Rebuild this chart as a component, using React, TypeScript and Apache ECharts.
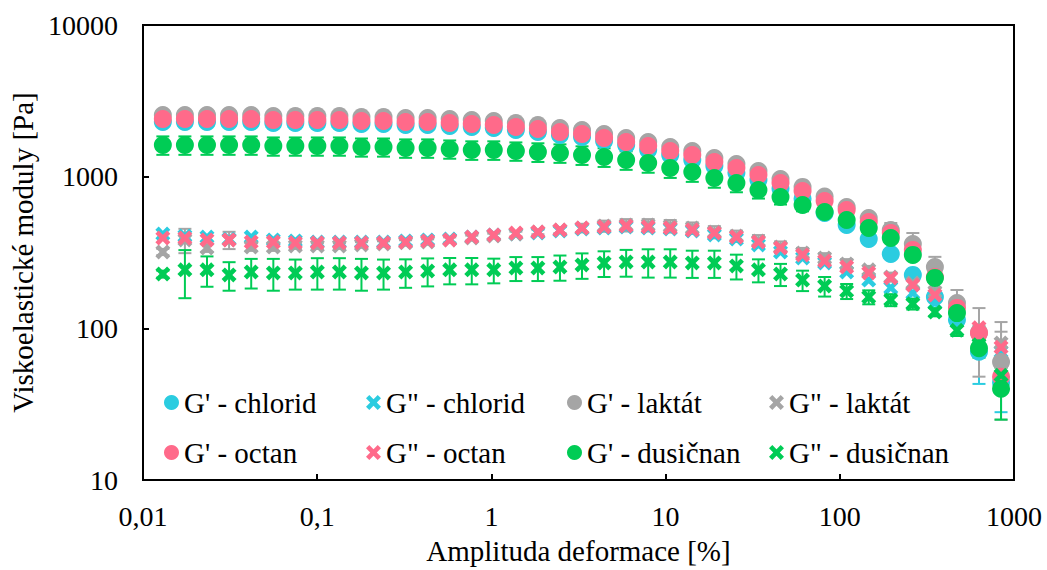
import React, { useEffect, useRef } from 'react';
import * as echarts from 'echarts';

// Strain amplitude [%]
const strain = [0.0130, 0.0174, 0.0233, 0.0312, 0.0418, 0.0560, 0.0749, 0.1002, 0.1341, 0.1795, 0.2403, 0.3217, 0.4305, 0.5763, 0.7714, 1.032, 1.382, 1.849, 2.475, 3.313, 4.435, 5.936, 7.943, 10.63, 14.23, 19.05, 25.50, 34.12, 45.67, 61.13, 81.82, 109.5, 146.6, 196.2, 262.6, 351.5, 470.5, 629.5, 842.6];

// G' and G" [Pa]
const gp_chlorid = [2293, 2293, 2293, 2293, 2293, 2259, 2259, 2259, 2259, 2225, 2225, 2191, 2191, 2158, 2126, 2094, 2031, 1971, 1884, 1827, 1719, 1618, 1500, 1390, 1289, 1176, 1060, 951, 835, 715, 576, 480, 388, 309, 225, 161, 114, 70, 44];
const gpp_chlorid = [419, 406, 400, 388, 400, 383, 377, 371, 371, 371, 371, 377, 383, 388, 400, 413, 419, 425, 438, 452, 459, 466, 459, 452, 438, 413, 388, 355, 319, 291, 270, 235, 208, 185, 171, 147, 117, 84, 70];
const gp_laktat = [2551, 2551, 2551, 2551, 2551, 2512, 2512, 2512, 2512, 2474, 2474, 2437, 2437, 2400, 2364, 2328, 2259, 2191, 2094, 2031, 1912, 1800, 1694, 1570, 1477, 1328, 1213, 1090, 965, 856, 740, 631, 534, 445, 360, 254, 147, 94, 60];
const gpp_laktat = [319, 383, 339, 383, 344, 344, 349, 349, 349, 355, 360, 366, 371, 383, 394, 406, 419, 432, 445, 459, 473, 480, 480, 473, 459, 432, 406, 377, 344, 314, 291, 266, 243, 218, 199, 174, 143, 92, 80];
const gp_octan = [2400, 2400, 2400, 2400, 2400, 2364, 2364, 2364, 2364, 2328, 2328, 2293, 2293, 2259, 2225, 2191, 2126, 2062, 1971, 1912, 1800, 1694, 1594, 1477, 1390, 1250, 1141, 1026, 909, 805, 691, 603, 503, 425, 329, 218, 136, 93, 48];
const gpp_octan = [394, 394, 383, 383, 371, 371, 366, 366, 366, 366, 366, 371, 377, 383, 400, 413, 425, 432, 445, 459, 466, 473, 466, 459, 445, 425, 400, 371, 339, 305, 278, 254, 232, 215, 193, 166, 138, 101, 75];
const gp_dusicnan = [1618, 1618, 1618, 1618, 1618, 1594, 1594, 1594, 1594, 1570, 1570, 1546, 1546, 1523, 1500, 1500, 1477, 1455, 1433, 1390, 1349, 1289, 1231, 1141, 1074, 980, 909, 817, 735, 651, 585, 518, 459, 394, 305, 215, 126, 74, 40];
const gpp_dusicnan = [228, 243, 243, 225, 235, 232, 232, 235, 235, 232, 232, 235, 239, 243, 243, 243, 250, 250, 254, 262, 270, 274, 274, 274, 270, 270, 258, 243, 228, 208, 190, 176, 161, 154, 145, 128, 97, 78, 49];

// Error bars (± Pa)
const err_gp_chlorid = [0, 0, 0, 0, 0, 0, 0, 0, 0, 0, 0, 0, 0, 0, 0, 0, 0, 0, 0, 0, 0, 0, 0, 0, 0, 0, 0, 0, 0, 0, 0, 0, 0, 0, 0, 0, 8, 27, 16];
const err_gp_laktat = [0, 0, 0, 0, 0, 0, 0, 0, 0, 0, 0, 0, 0, 0, 0, 0, 0, 0, 0, 0, 0, 0, 0, 0, 0, 0, 0, 0, 0, 0, 0, 0, 20, 50, 65, 42, 32, 10, 35];
const err_gpp_laktat = [15, 70, 20, 50, 20, 20, 15, 15, 15, 15, 15, 15, 15, 15, 15, 15, 15, 15, 20, 30, 40, 45, 45, 45, 40, 40, 35, 35, 30, 25, 22, 20, 15, 15, 15, 12, 12, 44, 30];
const err_gp_dusicnan = [225, 225, 225, 225, 225, 220, 220, 220, 220, 215, 215, 215, 215, 210, 210, 210, 205, 205, 200, 195, 190, 180, 170, 160, 150, 135, 120, 100, 80, 60, 45, 35, 30, 25, 20, 15, 10, 10, 15];
const err_gpp_dusicnan = [12, 85, 55, 48, 52, 55, 52, 55, 55, 55, 52, 50, 50, 48, 48, 45, 45, 45, 48, 50, 52, 55, 58, 58, 55, 55, 48, 42, 38, 32, 28, 20, 17, 14, 12, 8, 8, 8, 10];

const xTicks = [0.01, 0.1, 1, 10, 100, 1000];

const BLUE = '#2BCCE0';
const GRAY = '#A5A5A5';
const PINK = '#FF6A8A';
const GREEN = '#00CC55';
const FONT = '"Liberation Serif", "Times New Roman", serif';
const X_SYMBOL = 'path://M2.2,0L5,2.8L7.8,0L10,2.2L7.2,5L10,7.8L7.8,10L5,7.2L2.2,10L0,7.8L2.8,5L0,2.2Z';

const seriesDefs = [
  { name: "G' - chlorid", values: gp_chlorid, err: err_gp_chlorid, color: BLUE, x: false },
  { name: 'G" - chlorid', values: gpp_chlorid, err: null, color: BLUE, x: true },
  { name: "G' - laktát", values: gp_laktat, err: err_gp_laktat, color: GRAY, x: false },
  { name: 'G" - laktát', values: gpp_laktat, err: err_gpp_laktat, color: GRAY, x: true },
  { name: "G' - octan", values: gp_octan, err: null, color: PINK, x: false },
  { name: 'G" - octan', values: gpp_octan, err: null, color: PINK, x: true },
  { name: "G' - dusičnan", values: gp_dusicnan, err: err_gp_dusicnan, color: GREEN, x: false },
  { name: 'G" - dusičnan', values: gpp_dusicnan, err: err_gpp_dusicnan, color: GREEN, x: true },
];

const legendLeft = [164, 366, 567, 769];
const legendTop = [388, 438];

function fmtNum(v: number): string {
  const r = parseFloat(Number(v).toPrecision(6));
  return String(r).replace('.', ',');
}

export default function App() {
  const ref = useRef<HTMLDivElement>(null);
  useEffect(() => {
    if (!ref.current) return;
    const chart = echarts.init(ref.current, null, { renderer: 'svg' });

    const series: any[] = [];
    seriesDefs.forEach((s) => {
      series.push({
        type: 'scatter',
        name: s.name,
        data: strain.map((x, k) => [x, s.values[k]]),
        symbol: s.x ? X_SYMBOL : 'circle',
        symbolSize: s.x ? 15 : 18,
        itemStyle: { color: s.color, opacity: 1 },
        emphasis: { disabled: true },
        silent: true,
      });
      if (s.err) {
        const errs = s.err;
        const color = s.color;
        series.push({
          type: 'custom',
          name: s.name + ' error',
          silent: true,
          encode: { x: 0, y: [1, 2] },
          data: strain
            .map((x, k) => [x, s.values[k] - errs[k], s.values[k] + errs[k]])
            .filter((d, k) => errs[k] > 0),
          renderItem: (params: any, api: any) => {
            const x = api.value(0);
            const lo = api.value(1);
            const hi = api.value(2);
            const a = api.coord([x, hi]);
            const b = api.coord([x, lo]);
            const hw = 6.5;
            const style = { stroke: color, lineWidth: 2, fill: null };
            return {
              type: 'group',
              children: [
                { type: 'line', shape: { x1: a[0], y1: a[1], x2: b[0], y2: b[1] }, style },
                { type: 'line', shape: { x1: a[0] - hw, y1: a[1], x2: a[0] + hw, y2: a[1] }, style },
                { type: 'line', shape: { x1: b[0] - hw, y1: b[1], x2: b[0] + hw, y2: b[1] }, style },
              ],
            };
          },
        });
      }
    });

    const legends = seriesDefs.map((s, i) => ({
      data: [s.name],
      left: legendLeft[i % 4],
      top: legendTop[Math.floor(i / 4)],
      orient: 'horizontal',
      padding: 0,
      itemWidth: 15,
      itemHeight: 15,
      selectedMode: false,
      textStyle: { fontSize: 29, fontFamily: FONT, color: '#000' },
    }));

    chart.setOption({
      animation: false,
      backgroundColor: '#fff',
      grid: {
        left: 143,
        right: 33,
        top: 25,
        bottom: 90,
        show: true,
        borderColor: '#000',
        borderWidth: 2,
        backgroundColor: 'transparent',
      },
      legend: legends,
      xAxis: {
        type: 'log',
        logBase: 10,
        min: xTicks[0],
        max: xTicks[xTicks.length - 1],
        name: 'Amplituda deformace [%]',
        nameLocation: 'middle',
        nameGap: 56,
        nameTextStyle: { fontSize: 29, fontFamily: FONT, color: '#000' },
        axisLine: { show: false },
        axisTick: { show: true, inside: true, length: 6, lineStyle: { color: '#000', width: 2 } },
        splitLine: { show: false },
        axisLabel: {
          fontSize: 28,
          fontFamily: FONT,
          color: '#000',
          margin: 22,
          formatter: (v: number) => fmtNum(v),
        },
      },
      yAxis: {
        type: 'log',
        logBase: 10,
        min: 10,
        max: 10000,
        name: 'Viskoelastické moduly [Pa]',
        nameLocation: 'middle',
        nameGap: 90,
        nameTextStyle: { fontSize: 29, fontFamily: FONT, color: '#000' },
        axisLine: { show: false },
        axisTick: { show: true, inside: true, length: 6, lineStyle: { color: '#000', width: 2 } },
        splitLine: { show: false },
        axisLabel: {
          fontSize: 28,
          fontFamily: FONT,
          color: '#000',
          margin: 25,
          formatter: (v: number) => String(Math.round(v)),
        },
      },
      series,
    });

    return () => chart.dispose();
  }, []);

  return (
    <div
      ref={ref}
      style={{ position: 'absolute', left: 0, top: 0, width: 1047, height: 570 }}
    />
  );
}
